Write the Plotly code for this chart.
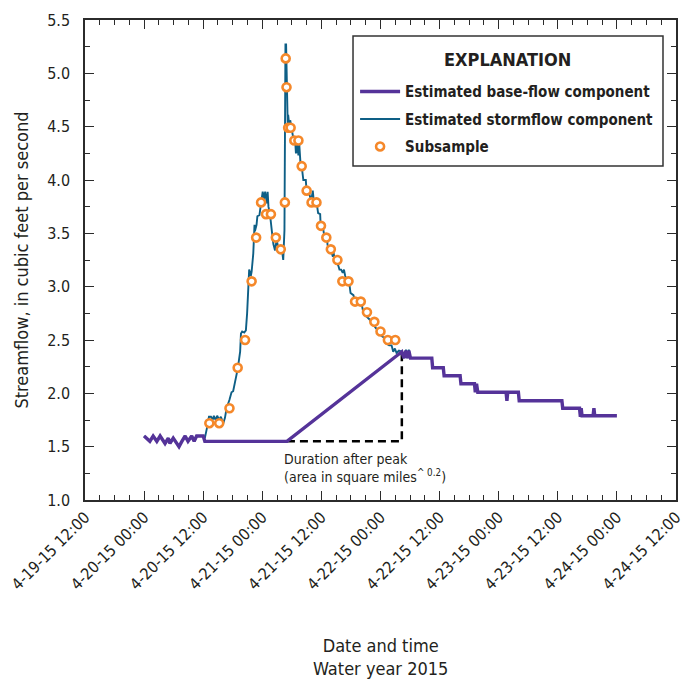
import plotly.graph_objects as go

# ---- Estimated stormflow component (total streamflow) ----
storm_time = [
    "2015-04-20 00:00", "2015-04-20 01:10", "2015-04-20 01:50", "2015-04-20 02:35", "2015-04-20 03:15",
    "2015-04-20 04:15", "2015-04-20 04:55", "2015-04-20 05:15", "2015-04-20 05:55", "2015-04-20 06:35",
    "2015-04-20 07:05", "2015-04-20 07:40", "2015-04-20 08:20", "2015-04-20 08:55", "2015-04-20 09:40",
    "2015-04-20 10:10", "2015-04-20 10:40", "2015-04-20 12:00", "2015-04-20 12:20", "2015-04-20 12:50",
    "2015-04-20 13:10", "2015-04-20 13:35", "2015-04-20 13:55", "2015-04-20 14:10", "2015-04-20 14:30",
    "2015-04-20 14:50", "2015-04-20 15:15", "2015-04-20 15:35", "2015-04-20 16:05", "2015-04-20 16:25",
    "2015-04-20 16:45", "2015-04-20 17:20", "2015-04-20 17:45", "2015-04-20 18:05", "2015-04-20 18:20",
    "2015-04-20 18:50", "2015-04-20 19:10", "2015-04-20 19:30", "2015-04-20 19:40", "2015-04-20 19:55",
    "2015-04-20 20:20", "2015-04-20 20:40", "2015-04-20 20:55", "2015-04-20 21:10", "2015-04-20 21:20",
    "2015-04-20 21:30", "2015-04-20 21:40", "2015-04-20 21:50", "2015-04-20 22:10", "2015-04-20 22:25",
    "2015-04-20 22:30", "2015-04-20 22:50", "2015-04-20 23:00", "2015-04-20 23:25", "2015-04-20 23:40",
    "2015-04-20 23:55", "2015-04-21 00:05", "2015-04-21 00:20", "2015-04-21 00:35", "2015-04-21 00:55",
    "2015-04-21 01:05", "2015-04-21 01:15", "2015-04-21 01:35", "2015-04-21 01:55", "2015-04-21 02:15",
    "2015-04-21 02:35", "2015-04-21 02:55", "2015-04-21 03:15", "2015-04-21 03:35", "2015-04-21 03:55",
    "2015-04-21 04:15", "2015-04-21 04:30", "2015-04-21 04:35", "2015-04-21 04:42", "2015-04-21 04:50",
    "2015-04-21 05:00", "2015-04-21 05:10", "2015-04-21 05:15", "2015-04-21 05:30", "2015-04-21 05:40",
    "2015-04-21 06:00", "2015-04-21 06:20", "2015-04-21 06:40", "2015-04-21 06:50", "2015-04-21 07:05",
    "2015-04-21 07:20", "2015-04-21 07:30", "2015-04-21 07:45", "2015-04-21 08:00", "2015-04-21 08:20",
    "2015-04-21 08:50", "2015-04-21 09:00", "2015-04-21 09:20", "2015-04-21 09:30", "2015-04-21 09:55",
    "2015-04-21 10:15", "2015-04-21 10:30", "2015-04-21 10:40", "2015-04-21 11:05", "2015-04-21 11:20",
    "2015-04-21 11:45", "2015-04-21 11:50", "2015-04-21 12:15", "2015-04-21 12:30", "2015-04-21 13:05",
    "2015-04-21 13:15", "2015-04-21 13:45", "2015-04-21 14:05", "2015-04-21 14:20", "2015-04-21 14:25",
    "2015-04-21 14:45", "2015-04-21 15:05", "2015-04-21 15:25", "2015-04-21 15:40", "2015-04-21 16:00",
    "2015-04-21 16:20", "2015-04-21 16:35", "2015-04-21 16:50", "2015-04-21 17:10", "2015-04-21 17:40",
    "2015-04-21 17:55", "2015-04-21 18:30", "2015-04-21 18:50", "2015-04-21 19:10", "2015-04-21 19:50",
    "2015-04-21 20:10", "2015-04-21 20:25", "2015-04-21 20:50", "2015-04-21 21:10", "2015-04-21 21:50",
    "2015-04-21 22:15", "2015-04-21 22:30", "2015-04-21 23:05", "2015-04-21 23:35", "2015-04-21 23:55",
    "2015-04-22 00:25", "2015-04-22 00:55", "2015-04-22 01:05", "2015-04-22 01:45", "2015-04-22 02:15",
    "2015-04-22 02:35", "2015-04-22 02:55", "2015-04-22 03:15", "2015-04-22 03:45", "2015-04-22 04:20",
    "2015-04-22 04:45", "2015-04-22 05:10", "2015-04-22 05:30", "2015-04-22 05:45", "2015-04-22 06:05",
    "2015-04-22 06:25",
]
storm_flow = [
    1.60, 1.55, 1.60, 1.55, 1.60,
    1.53, 1.58, 1.53, 1.58, 1.53,
    1.50, 1.55, 1.60, 1.55, 1.60,
    1.55, 1.60, 1.60, 1.58, 1.69,
    1.78, 1.78, 1.75, 1.79, 1.75,
    1.79, 1.75, 1.78, 1.72, 1.77,
    1.86, 1.94, 2.01, 2.02, 2.09,
    2.19, 2.28, 2.39, 2.56, 2.58,
    2.57, 2.59, 2.75, 3.06, 3.16,
    3.13, 3.10, 3.14, 3.31, 3.58,
    3.52, 3.58, 3.66, 3.67, 3.75,
    3.82, 3.89, 3.82, 3.89, 3.78,
    3.89, 3.75, 3.67, 3.53, 3.40,
    3.34, 3.44, 3.36, 3.33, 3.37,
    3.25, 3.53, 4.47, 5.27, 5.27,
    4.78, 4.50, 4.61, 4.50, 4.56,
    4.47, 4.38, 4.37, 4.25, 4.33,
    4.23, 4.34, 4.16, 4.13, 4.00,
    4.00, 3.89, 3.89, 3.88, 3.80,
    3.90, 3.78, 3.78, 3.77, 3.69,
    3.68, 3.59, 3.58, 3.50, 3.48,
    3.39, 3.37, 3.31, 3.28, 3.33,
    3.25, 3.22, 3.20, 3.16, 3.16,
    3.13, 3.16, 3.10, 3.06, 3.03,
    2.94, 2.92, 2.87, 2.86, 2.86,
    2.84, 2.78, 2.78, 2.72, 2.69,
    2.66, 2.64, 2.61, 2.59, 2.55,
    2.53, 2.52, 2.47, 2.45, 2.45,
    2.39, 2.42, 2.38, 2.40, 2.39,
    2.33, 2.41, 2.33, 2.41, 2.33,
    2.33,
]

# ---- Estimated base-flow component ----
base_time = [
    "2015-04-20 00:00", "2015-04-20 01:10", "2015-04-20 01:50", "2015-04-20 02:35", "2015-04-20 03:15",
    "2015-04-20 04:15", "2015-04-20 04:55", "2015-04-20 05:15", "2015-04-20 05:55", "2015-04-20 06:35",
    "2015-04-20 07:05", "2015-04-20 07:40", "2015-04-20 08:20", "2015-04-20 08:55", "2015-04-20 09:40",
    "2015-04-20 10:10", "2015-04-20 10:40", "2015-04-20 12:00", "2015-04-20 12:20", "2015-04-21 05:00",
    "2015-04-22 04:20", "2015-04-22 04:45", "2015-04-22 05:10", "2015-04-22 05:30", "2015-04-22 05:45",
    "2015-04-22 06:05", "2015-04-22 10:25", "2015-04-22 10:35", "2015-04-22 12:45", "2015-04-22 12:55",
    "2015-04-22 16:10", "2015-04-22 16:20", "2015-04-22 19:05", "2015-04-22 19:15", "2015-04-22 19:30",
    "2015-04-22 19:45", "2015-04-23 01:30", "2015-04-23 01:40", "2015-04-23 01:50", "2015-04-23 04:00",
    "2015-04-23 04:10", "2015-04-23 12:50", "2015-04-23 13:00", "2015-04-23 16:25", "2015-04-23 16:35",
    "2015-04-23 16:45", "2015-04-23 16:55", "2015-04-23 19:10", "2015-04-23 19:20", "2015-04-23 19:30",
    "2015-04-24 00:00",
]
base_flow = [
    1.60, 1.55, 1.60, 1.55, 1.60,
    1.53, 1.58, 1.53, 1.58, 1.53,
    1.50, 1.55, 1.60, 1.55, 1.60,
    1.55, 1.60, 1.60, 1.55, 1.55,
    2.39, 2.33, 2.40, 2.33, 2.40,
    2.33, 2.33, 2.24, 2.24, 2.165,
    2.165, 2.09, 2.09, 2.01, 2.09,
    2.01, 2.01, 1.93, 2.01, 2.01,
    1.93, 1.93, 1.86, 1.86, 1.78,
    1.86, 1.79, 1.79, 1.86, 1.79,
    1.79,
]

# ---- Subsample points ----
sub_time = [
    "2015-04-20 13:15", "2015-04-20 15:15", "2015-04-20 17:20", "2015-04-20 19:00", "2015-04-20 20:30",
    "2015-04-20 21:50", "2015-04-20 22:45", "2015-04-20 23:45", "2015-04-21 00:45", "2015-04-21 01:45",
    "2015-04-21 02:45", "2015-04-21 03:45", "2015-04-21 04:35", "2015-04-21 04:45", "2015-04-21 04:55",
    "2015-04-21 05:15", "2015-04-21 05:45", "2015-04-21 06:30", "2015-04-21 07:20", "2015-04-21 08:00",
    "2015-04-21 09:00", "2015-04-21 10:00", "2015-04-21 11:00", "2015-04-21 11:55", "2015-04-21 13:00",
    "2015-04-21 13:55", "2015-04-21 15:15", "2015-04-21 16:15", "2015-04-21 17:30", "2015-04-21 18:50",
    "2015-04-21 20:00", "2015-04-21 21:15", "2015-04-21 22:45", "2015-04-22 00:00", "2015-04-22 01:30",
    "2015-04-22 03:00",
]
sub_flow = [
    1.72, 1.72, 1.86, 2.24, 2.50,
    3.05, 3.46, 3.79, 3.68, 3.68,
    3.46, 3.35, 3.79, 5.14, 4.87,
    4.49, 4.49, 4.37, 4.37, 4.13,
    3.90, 3.79, 3.79, 3.57, 3.46,
    3.35, 3.25, 3.05, 3.05, 2.86,
    2.86, 2.76, 2.67, 2.58, 2.50,
    2.50,
]

# ---- Duration-after-peak guide lines ----
guide_time = ["2015-04-21 05:00", "2015-04-22 04:20", "2015-04-22 04:20"]
guide_flow = [1.55, 1.55, 2.39]

x_range = ["2015-04-19 12:00", "2015-04-24 12:00"]
y_range = [1.0, 5.5]

PURPLE = "#553399"
TEAL = "#0e5f86"
ORANGE = "#f5882a"
AXIS = "#2b2b2b"
TXT = "#231f20"
FONT = "DejaVu Sans Condensed, DejaVu Sans, sans-serif"

fig = go.Figure()

fig.add_trace(go.Scatter(
    x=guide_time, y=guide_flow, mode="lines", showlegend=False,
    line=dict(color="black", width=2.5, dash="8px,5px"), hoverinfo="skip",
))
fig.add_trace(go.Scatter(
    x=storm_time, y=storm_flow, mode="lines", name="Estimated stormflow component",
    line=dict(color=TEAL, width=1.9), legendrank=2, legendgroup="b",
))
fig.add_trace(go.Scatter(
    x=base_time, y=base_flow, mode="lines", name="Estimated base-flow component",
    line=dict(color=PURPLE, width=3.4), legendrank=1, legendgroup="a",
))
fig.add_trace(go.Scatter(
    x=sub_time, y=sub_flow, mode="markers", name="Subsample",
    marker=dict(symbol="circle", size=8, color="white", line=dict(color=ORANGE, width=2.6)),
    legendrank=3, legendgroup="c",
))

fig.update_layout(
    width=687, height=681,
    margin=dict(l=85, r=11, t=20, b=181),
    paper_bgcolor="white", plot_bgcolor="white",
    font=dict(family=FONT, size=15, color=TXT),
    legend=dict(
        x=0.457, y=0.885, xanchor="left", yanchor="top",
        traceorder="grouped",
        bgcolor="rgba(0,0,0,0)", borderwidth=0,
        font=dict(family=FONT, size=15, color=TXT, weight="bold"),
        itemwidth=40, tracegroupgap=5,
    ),
    showlegend=True,
)

# legend frame and heading
fig.add_shape(
    type="rect", xref="paper", yref="paper",
    x0=0.4535, x1=0.978, y0=0.6958, y1=0.9667,
    line=dict(color="#333333", width=1.5), fillcolor="white", layer="below",
)
fig.add_annotation(
    x=0.7157, y=0.9167, xref="paper", yref="paper", xanchor="center", yanchor="middle",
    showarrow=False, text="<b>EXPLANATION</b>",
    font=dict(family=FONT, size=18, color=TXT),
)

fig.update_xaxes(
    type="date", range=x_range, automargin=False,
    tick0="2015-04-19 12:00", dtick=12 * 3600 * 1000,
    tickformat="%-m-%d-%y %H:%M", tickangle=-45,
    ticks="inside", ticklen=9, tickwidth=1.3, tickcolor=AXIS,
    minor=dict(dtick=3 * 3600 * 1000, ticks="inside", ticklen=5, tickwidth=1.2, tickcolor=AXIS),
    showline=True, linecolor=AXIS, linewidth=1.5, mirror="allticks",
    showgrid=False, zeroline=False,
    tickfont=dict(family=FONT, size=16),
)
fig.update_yaxes(
    range=y_range, dtick=0.5, tick0=1.0, tickformat=".1f", automargin=False,
    ticks="inside", ticklen=9, tickwidth=1.3, tickcolor=AXIS,
    minor=dict(dtick=0.25, ticks="inside", ticklen=5, tickwidth=1.2, tickcolor=AXIS),
    showline=True, linecolor=AXIS, linewidth=1.5, mirror="allticks",
    showgrid=False, zeroline=False, ticklabelstandoff=10,
    tickfont=dict(family=FONT, size=16),
    title=dict(text="Streamflow, in cubic feet per second", font=dict(family=FONT, size=18), standoff=14),
)

# x-axis title (two lines)
fig.add_annotation(
    x=0.5, y=-0.328, xref="paper", yref="paper", xanchor="center", yanchor="middle",
    showarrow=False, text="Date and time<br>Water year 2015",
    font=dict(family=FONT, size=18, color=TXT),
)

fig.add_annotation(
    x="2015-04-21 04:00", y=1.475, xref="x", yref="y", xanchor="left", yanchor="top",
    align="left", showarrow=False,
    text="Duration after peak<br>(area in square miles<sup>^ 0.2</sup>)",
    font=dict(family=FONT, size=14, color=TXT),
)

fig.write_html("out.html")
